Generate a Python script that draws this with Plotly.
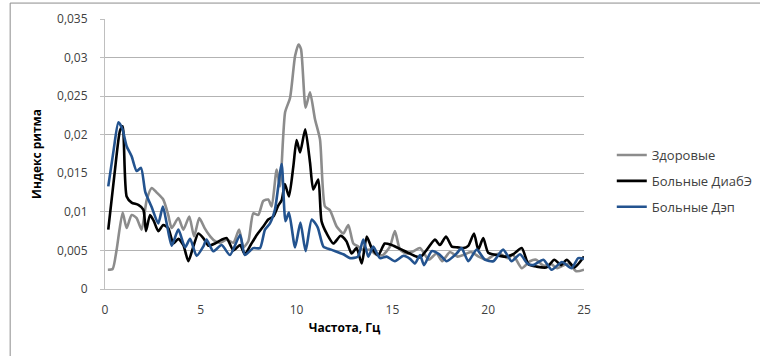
import plotly.graph_objects as go

# Здоровые
f_healthy = [0.15, 0.4, 0.6, 0.92, 1.13, 1.39, 1.65, 1.91, 2.18, 2.44, 2.7, 3.04, 3.3, 3.48, 3.83, 4.09, 4.4, 4.65, 4.92, 5.2,
             5.5, 5.75, 6.0, 6.35, 6.7, 7.0, 7.22, 7.48, 7.74, 8.0, 8.26, 8.52, 8.7, 8.96, 9.13, 9.4, 9.66, 9.92, 10.1, 10.23,
             10.47, 10.7, 10.96, 11.22, 11.48, 11.74, 12.09, 12.44, 12.7, 12.96, 13.22, 13.5, 13.83, 14.18, 14.5, 14.87, 15.13, 15.4, 15.75, 16.1,
             16.44, 16.9, 17.3, 17.6, 18.0, 18.4, 18.7, 19.1, 19.5, 19.9, 20.3, 20.6, 21.0, 21.3, 21.75, 22.18, 22.5, 22.9, 23.3, 23.6,
             24.2, 24.6, 25.0]
v_healthy = [0.0025, 0.0026, 0.005, 0.0099, 0.0079, 0.0096, 0.0092, 0.0077, 0.0116, 0.0131, 0.0125, 0.0116, 0.0096, 0.0079, 0.0092, 0.0077, 0.0094, 0.0068, 0.0092, 0.0079,
             0.0068, 0.0062, 0.006, 0.0064, 0.006, 0.0077, 0.0054, 0.0062, 0.0098, 0.0096, 0.0114, 0.0116, 0.0107, 0.0155, 0.0133, 0.0229, 0.0248, 0.0302, 0.0317, 0.0311,
             0.0235, 0.0255, 0.022, 0.0194, 0.0107, 0.0102, 0.0081, 0.0072, 0.0083, 0.0059, 0.0055, 0.005, 0.0051, 0.0044, 0.0044, 0.0055, 0.0075, 0.0051, 0.0046, 0.0049,
             0.0053, 0.0038, 0.0046, 0.0036, 0.0048, 0.0042, 0.0044, 0.0048, 0.0042, 0.0038, 0.0044, 0.0046, 0.004, 0.0044, 0.0027, 0.0036, 0.0038, 0.003, 0.0032, 0.0027,
             0.0033, 0.0023, 0.0025]

# Больные ДиабЭ
f_diab = [0.17, 0.5, 0.78, 0.92, 1.13, 1.39, 1.74, 2.0, 2.14, 2.35, 2.55, 2.78, 3.04, 3.3, 3.57, 3.83, 4.09, 4.35, 4.61, 4.87,
          5.13, 5.4, 5.74, 6.09, 6.35, 6.7, 7.05, 7.3, 7.6, 7.92, 8.26, 8.52, 8.79, 9.04, 9.22, 9.39, 9.6, 9.83, 10.0, 10.18,
          10.45, 10.7, 10.87, 11.13, 11.3, 11.57, 11.92, 12.3, 12.6, 12.87, 13.13, 13.4, 13.66, 13.92, 14.26, 14.6, 14.96, 15.4, 15.9, 16.44,
          16.8, 17.22, 17.48, 17.8, 18.1, 18.4, 18.7, 18.96, 19.26, 19.48, 19.74, 20.0, 20.44, 20.9, 21.3, 21.75, 22.1, 22.53, 23.05, 23.45,
          23.8, 24.1, 24.5, 25.0]
v_diab = [0.0077, 0.015, 0.0205, 0.0211, 0.012, 0.0112, 0.0109, 0.0103, 0.0075, 0.0096, 0.0088, 0.0075, 0.0083, 0.0079, 0.0059, 0.0065, 0.0057, 0.0036, 0.0055, 0.0072,
          0.0066, 0.0056, 0.0059, 0.0064, 0.0066, 0.005, 0.0057, 0.0045, 0.0057, 0.007, 0.0081, 0.009, 0.0094, 0.0108, 0.0115, 0.0136, 0.012, 0.0159, 0.0193, 0.0177,
          0.0207, 0.0164, 0.0129, 0.0142, 0.0088, 0.0072, 0.0059, 0.0069, 0.0062, 0.0046, 0.0053, 0.0033, 0.0068, 0.0053, 0.0044, 0.0059, 0.0057, 0.0052, 0.0046, 0.0041,
          0.0051, 0.0064, 0.0057, 0.0068, 0.0055, 0.0054, 0.0053, 0.0056, 0.0072, 0.0051, 0.0066, 0.0047, 0.0044, 0.0042, 0.0045, 0.0053, 0.0032, 0.0029, 0.0028, 0.0038,
          0.0031, 0.0038, 0.0028, 0.0042]

# Больные Дэп
f_dep = [0.17, 0.45, 0.7, 0.9, 1.13, 1.39, 1.65, 1.88, 2.1, 2.44, 2.78, 3.02, 3.22, 3.48, 3.83, 4.18, 4.44, 4.78, 5.13, 5.3,
         5.65, 6.09, 6.52, 7.05, 7.3, 7.74, 8.09, 8.35, 8.61, 8.87, 9.22, 9.42, 9.6, 9.92, 10.2, 10.47, 10.79, 11.1, 11.4, 11.8,
         12.44, 12.79, 13.2, 13.48, 13.74, 14.0, 14.35, 14.7, 15.13, 15.57, 15.92, 16.18, 16.44, 16.65, 17.05, 17.45, 17.83, 18.35, 18.61, 18.96,
         19.4, 19.83, 20.27, 20.78, 21.22, 21.66, 22.05, 22.35, 22.88, 23.31, 23.85, 24.35, 24.7, 25.0]
v_dep = [0.0133, 0.018, 0.0216, 0.0208, 0.0185, 0.0172, 0.0153, 0.0157, 0.0126, 0.0106, 0.0085, 0.0107, 0.0085, 0.0056, 0.0077, 0.0054, 0.0065, 0.0043, 0.0055, 0.0064,
         0.0049, 0.0057, 0.0044, 0.007, 0.0044, 0.0053, 0.0053, 0.0077, 0.0085, 0.0103, 0.0162, 0.0088, 0.0099, 0.0054, 0.0086, 0.0049, 0.009, 0.008, 0.0055, 0.0051,
         0.0045, 0.004, 0.0042, 0.0064, 0.0042, 0.0055, 0.004, 0.0042, 0.0036, 0.0043, 0.0039, 0.0033, 0.0044, 0.0031, 0.0049, 0.0045, 0.0036, 0.0046, 0.0053, 0.0036,
         0.0051, 0.0038, 0.0036, 0.0051, 0.0036, 0.0045, 0.0033, 0.0031, 0.0038, 0.0025, 0.0035, 0.0027, 0.004, 0.0039]

series_names = ["Здоровые", "Больные ДиабЭ", "Больные Дэп"]
y_tick_vals = [0, 0.005, 0.01, 0.015, 0.02, 0.025, 0.03, 0.035]
y_tick_text = ["0", "0,005", "0,01", "0,015", "0,02", "0,025", "0,03", "0,035"]
x_tick_vals = [0, 5, 10, 15, 20, 25]

colors = ["#8c8c8c", "#000000", "#23538f"]
FONT = "Open Sans"

fig = go.Figure()
for i, (fx, fy) in enumerate([(f_healthy, v_healthy), (f_diab, v_diab), (f_dep, v_dep)]):
    fig.add_trace(go.Scatter(
        x=fx, y=fy, mode="lines", name=series_names[i], legendgroup=str(i),
        line=dict(color=colors[i], width=2.6, shape="spline", smoothing=0.6),
    ))

fig.update_layout(
    width=760, height=356,
    margin=dict(l=105, r=176, t=19, b=67, autoexpand=False),
    paper_bgcolor="white", plot_bgcolor="white",
    font=dict(family=FONT, size=12, color="#404040"),
    showlegend=True,
    legend=dict(x=1.058, xanchor="left", y=0.4, yanchor="middle",
                font=dict(family=FONT, size=13, color="#404040"),
                tracegroupgap=6, bgcolor="rgba(0,0,0,0)"),
    xaxis=dict(range=[0, 25], tickvals=x_tick_vals, showgrid=False, zeroline=False,
               showline=True, linecolor="#bfbfbf", linewidth=1, ticks="",
               ticklabelstandoff=10,
               tickfont=dict(size=12, color="#404040"),
               title=dict(text="<b>Частота, Гц</b>", font=dict(size=12, color="#000000"), standoff=6)),
    yaxis=dict(range=[0, 0.035], tickvals=y_tick_vals, ticktext=y_tick_text,
               showgrid=True, gridcolor="#b3b3b3", gridwidth=1, zeroline=False,
               showline=True, linecolor="#bfbfbf", linewidth=1,
               ticks="outside", ticklen=4, tickcolor="#bfbfbf",
               ticklabelstandoff=10,
               tickfont=dict(size=12, color="#404040"),
               title=dict(text="<b>Индекс ритма</b>", font=dict(size=12, color="#000000"), standoff=12)),
    shapes=[
        dict(type="line", xref="paper", yref="paper", x0=-0.198, x1=-0.198, y0=1.059, y1=-0.3,
             line=dict(color="#8c8c8c", width=1)),
        dict(type="line", xref="paper", yref="paper", x0=-0.198, x1=1.4, y0=1.059, y1=1.059,
             line=dict(color="#8c8c8c", width=1)),
    ],
)

fig.write_html("out.html")
